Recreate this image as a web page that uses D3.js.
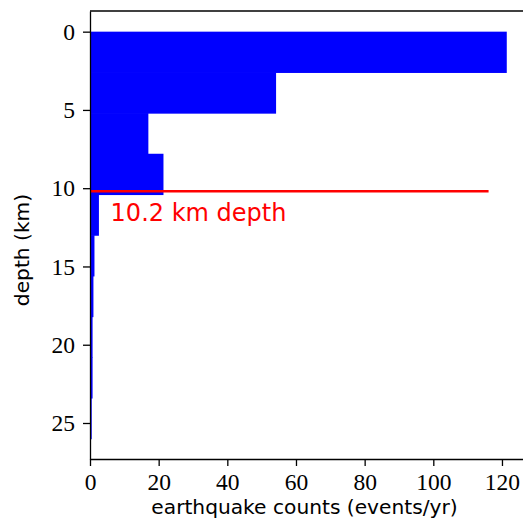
<!DOCTYPE html>
<html>
<head>
<meta charset="utf-8">
<script src="https://cdn.jsdelivr.net/npm/d3@7"></script>
<style>
  body { margin: 0; background: #fff; overflow: hidden; }
  svg { display: block; }
  .tick text { font-family: "Liberation Serif", "Times New Roman", serif; font-size: 23.5px; fill: #000; }
  .axis path, .axis line { stroke: #000; stroke-width: 1.3; }
  .label { font-family: "DejaVu Sans", sans-serif; font-size: 20.2px; fill: #000; }
</style>
</head>
<body>
<svg id="chart"></svg>
<script>
// depth histogram of earthquake rates

var width = 523,
    height = 523;

// bin edges (km) and counts (events/yr)
var depthEdges = [0, 2.6, 5.2, 7.8, 10.4, 13.0, 15.6, 18.2, 20.8, 23.4, 26.0];
var counts = [121.4, 54.2, 17.0, 21.4, 2.6, 1.3, 1.0, 0.75, 0.75, 0.5];
var xTicks = [0, 20, 40, 60, 80, 100, 120];
var yTicks = [0, 5, 10, 15, 20, 25];
var markDepth = 10.2,
    markEnd = 116.1,
    markLabel = "10.2 km depth";

var m = {left: 90, right: 526, top: 11, bottom: 459};

var x = d3.scaleLinear().domain([0, 127]).range([m.left, m.right]);
var y = d3.scaleLinear().domain([-1.32, 27.3]).range([m.top, m.bottom]);

var svg = d3.select("#chart")
    .attr("width", width)
    .attr("height", height);

var bins = counts.map(function(c, i) {
  return {y0: depthEdges[i], y1: depthEdges[i + 1], count: c};
});

svg.append("g")
  .selectAll("rect")
  .data(bins)
  .enter().append("rect")
    .attr("x", x(0))
    .attr("y", function(d) { return y(d.y0); })
    .attr("width", function(d) { return x(d.count) - x(0); })
    .attr("height", function(d) { return y(d.y1) - y(d.y0) + 0.6; })
    .attr("fill", "#0000ff");

// red marker line
svg.append("line")
  .attr("x1", x(0)).attr("x2", x(markEnd))
  .attr("y1", y(markDepth)).attr("y2", y(markDepth))
  .attr("stroke", "#ff0000")
  .attr("stroke-width", 2.5);

svg.append("text")
  .attr("x", x(6))
  .attr("y", y(markDepth) + 30)
  .attr("fill", "#ff0000")
  .style("font-family", "DejaVu Sans, sans-serif")
  .style("font-size", "24px")
  .text(markLabel);

// axes
svg.append("g")
  .attr("class", "axis")
  .attr("transform", "translate(0," + m.bottom + ")")
  .call(d3.axisBottom(x).tickValues(xTicks).tickSize(7).tickPadding(4).tickSizeOuter(0))
  .call(function(g) { g.selectAll(".tick text").attr("dy", "0.85em"); });

svg.append("g")
  .attr("class", "axis")
  .attr("transform", "translate(" + m.left + ",0)")
  .call(d3.axisLeft(y).tickValues(yTicks).tickSize(7).tickPadding(8).tickSizeOuter(0))
  .call(function(g) { g.selectAll(".tick text").attr("dy", "0.33em"); });

// top spine
svg.append("line")
  .attr("x1", m.left).attr("x2", m.right)
  .attr("y1", m.top).attr("y2", m.top)
  .attr("stroke", "#000").attr("stroke-width", 1.3);

// axis titles
svg.append("text")
  .attr("class", "label")
  .attr("text-anchor", "middle")
  .attr("x", 304.5)
  .attr("y", 514)
  .text("earthquake counts (events/yr)");

svg.append("text")
  .attr("class", "label")
  .attr("text-anchor", "middle")
  .attr("transform", "translate(29,250) rotate(-90)")
  .text("depth (km)");
</script>
</body>
</html>
